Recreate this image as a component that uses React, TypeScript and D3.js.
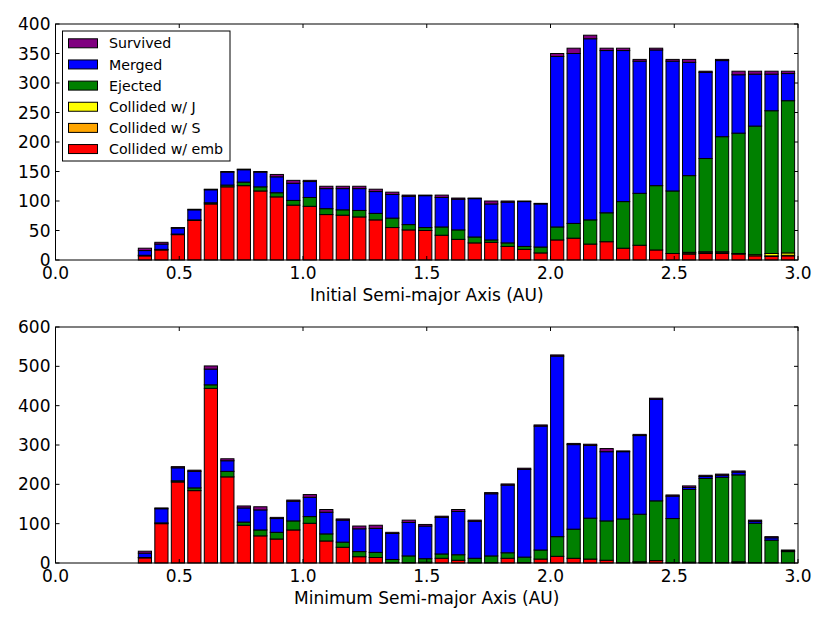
import { useEffect, useRef } from "react";
import * as d3 from "d3";

// categories, bottom of stack first
const categories = ["Collided w/ emb", "Collided w/ S", "Collided w/ J", "Ejected", "Merged", "Survived"];
const colors = ["#ff0000", "#ffa500", "#ffff00", "#008000", "#0000ff", "#800080"];
const legendOrder = ["Survived", "Merged", "Ejected", "Collided w/ J", "Collided w/ S", "Collided w/ emb"];

// 40 bins over the range of the data
const binLo = 0.328;
const binHi = 2.993;
const nBins = 40;

// Initial semi-major axis counts per bin
const initEmb = [7, 17, 43, 67, 95, 124, 126, 117, 107, 93, 91, 77, 76, 73, 68, 55, 51, 50, 42, 35, 29, 30, 23, 18, 12, 34, 37, 27, 31, 20, 25, 17, 11, 10, 11, 11, 10, 7, 6, 7];
const initS = [0, 0, 0, 0, 0, 0, 0, 0, 0, 0, 0, 0, 0, 0, 0, 0, 0, 0, 0, 0, 0, 0, 0, 0, 0, 0, 0, 0, 0, 0, 0, 0, 0, 2, 2, 2, 0, 0, 1, 1];
const initJ = [0, 0, 0, 0, 0, 0, 0, 0, 0, 0, 0, 0, 0, 0, 0, 0, 0, 0, 0, 0, 0, 0, 0, 0, 0, 0, 0, 0, 0, 0, 0, 0, 0, 1, 1, 1, 1, 2, 4, 4];
const initEj = [1, 1, 1, 1, 2, 3, 6, 7, 7, 8, 15, 10, 9, 11, 11, 16, 9, 5, 14, 16, 10, 4, 6, 5, 10, 22, 25, 41, 49, 79, 88, 109, 106, 130, 158, 195, 204, 218, 242, 258];
const initMerged = [8, 9, 10, 17, 22, 22, 21, 25, 27, 29, 27, 34, 36, 37, 37, 40, 48, 54, 50, 52, 65, 61, 69, 76, 73, 289, 288, 307, 275, 256, 224, 230, 220, 192, 146, 129, 99, 88, 62, 46];
const initSurv = [4, 3, 1, 1, 1, 1, 1, 1, 4, 5, 2, 4, 4, 4, 4, 4, 2, 1, 4, 2, 1, 5, 2, 1, 1, 5, 9, 6, 4, 4, 3, 3, 3, 5, 2, 2, 6, 5, 5, 4];

// Minimum semi-major axis counts per bin
const minEmb = [13, 100, 206, 184, 444, 219, 96, 69, 61, 84, 101, 56, 40, 16, 14, 1, 1, 2, 12, 7, 1, 1, 12, 1, 10, 17, 12, 10, 7, 1, 2, 6, 1, 2, 1, 1, 1, 1, 1, 0];
const minS = [0, 0, 0, 0, 0, 0, 0, 0, 0, 0, 0, 0, 0, 0, 0, 0, 0, 0, 0, 0, 0, 0, 0, 0, 0, 0, 0, 0, 0, 0, 1, 0, 0, 0, 0, 0, 0, 0, 0, 0];
const minJ = [0, 0, 0, 0, 0, 0, 0, 0, 0, 0, 0, 0, 0, 0, 0, 0, 0, 0, 0, 0, 0, 0, 0, 0, 0, 0, 0, 0, 0, 0, 0, 0, 0, 0, 0, 0, 2, 0, 0, 0];
const minEj = [1, 2, 3, 7, 9, 14, 8, 15, 17, 23, 17, 18, 13, 13, 13, 8, 17, 9, 11, 14, 11, 17, 14, 14, 23, 50, 74, 104, 100, 111, 121, 152, 112, 185, 214, 217, 221, 100, 57, 29];
const minMerged = [11, 36, 33, 42, 40, 27, 36, 51, 35, 50, 49, 55, 56, 58, 61, 66, 85, 83, 93, 110, 94, 158, 172, 223, 315, 459, 215, 185, 176, 171, 200, 258, 57, 5, 5, 5, 7, 5, 6, 2];
const minSurv = [5, 2, 3, 3, 8, 5, 5, 8, 3, 3, 7, 7, 3, 7, 8, 3, 6, 4, 3, 5, 3, 3, 3, 3, 3, 3, 3, 3, 8, 2, 3, 3, 3, 4, 3, 3, 3, 3, 3, 2];

const xTicks = [0, 0.5, 1, 1.5, 2, 2.5, 3];
const topYTicks = [0, 50, 100, 150, 200, 250, 300, 350, 400];
const botYTicks = [0, 100, 200, 300, 400, 500, 600];

const FONT = "DejaVu Sans, sans-serif";

type Panel = {
    series: number[][];
    yMax: number;
    yTicks: number[];
    top: number;
    bottom: number;
    label: string;
    legend: boolean;
};

export default function App() {
    const svgRef = useRef<SVGSVGElement | null>(null);

    useEffect(() => {
        const width = 830;
        const height = 623;
        const left = 55.5;
        const right = 798;

        const svg = d3.select(svgRef.current!).attr("width", width).attr("height", height);
        svg.selectAll("*").remove();
        svg.append("rect").attr("width", width).attr("height", height).attr("fill", "#fff");

        const x = d3.scaleLinear().domain([0, 3]).range([left, right]);
        const binW = (binHi - binLo) / nBins;

        const panels: Panel[] = [
            {
                series: [initEmb, initS, initJ, initEj, initMerged, initSurv],
                yMax: 400,
                yTicks: topYTicks,
                top: 24,
                bottom: 260,
                label: "Initial Semi-major Axis (AU)",
                legend: true,
            },
            {
                series: [minEmb, minS, minJ, minEj, minMerged, minSurv],
                yMax: 600,
                yTicks: botYTicks,
                top: 327,
                bottom: 563,
                label: "Minimum Semi-major Axis (AU)",
                legend: false,
            },
        ];

        panels.forEach((p) => {
            const y = d3.scaleLinear().domain([0, p.yMax]).range([p.bottom, p.top]);
            const g = svg.append("g");

            const rows = d3.range(nBins).map((i) => {
                const r: Record<string, number> = { i };
                categories.forEach((c, k) => (r[c] = p.series[k][i]));
                return r;
            });
            const stacked = d3.stack<Record<string, number>>().keys(categories)(rows);

            stacked.forEach((layer, k) => {
                g.selectAll(null)
                    .data(layer)
                    .join("rect")
                    .filter((d) => d[1] - d[0] > 0)
                    .attr("x", (d) => x(binLo + binW * (d.data.i + 0.1)))
                    .attr("width", x(binW * 0.8) - x(0))
                    .attr("y", (d) => y(d[1]))
                    .attr("height", (d) => y(d[0]) - y(d[1]))
                    .attr("fill", colors[k])
                    .attr("stroke", "#000")
                    .attr("stroke-width", 1);
            });

            // frame
            g.append("rect")
                .attr("x", left)
                .attr("y", p.top)
                .attr("width", right - left)
                .attr("height", p.bottom - p.top)
                .attr("fill", "none")
                .attr("stroke", "#000")
                .attr("stroke-width", 1);

            // inward ticks on all sides
            xTicks.forEach((t) => {
                g.append("line").attr("x1", x(t)).attr("x2", x(t)).attr("y1", p.bottom).attr("y2", p.bottom - 4).attr("stroke", "#000");
                g.append("line").attr("x1", x(t)).attr("x2", x(t)).attr("y1", p.top).attr("y2", p.top + 4).attr("stroke", "#000");
                g.append("text")
                    .attr("x", x(t))
                    .attr("y", p.bottom + 19)
                    .attr("text-anchor", "middle")
                    .attr("font-family", FONT)
                    .attr("font-size", 17)
                    .text(d3.format(".1f")(t));
            });
            p.yTicks.forEach((t) => {
                g.append("line").attr("x1", left).attr("x2", left + 4).attr("y1", y(t)).attr("y2", y(t)).attr("stroke", "#000");
                g.append("line").attr("x1", right).attr("x2", right - 4).attr("y1", y(t)).attr("y2", y(t)).attr("stroke", "#000");
                g.append("text")
                    .attr("x", left - 5)
                    .attr("y", y(t))
                    .attr("dy", "0.36em")
                    .attr("text-anchor", "end")
                    .attr("font-family", FONT)
                    .attr("font-size", 17)
                    .text(t);
            });

            g.append("text")
                .attr("x", (left + right) / 2)
                .attr("y", p.bottom + 41)
                .attr("text-anchor", "middle")
                .attr("font-family", FONT)
                .attr("font-size", 17)
                .text(p.label);

            if (p.legend) {
                const lg = g.append("g");
                lg.append("rect")
                    .attr("x", 62.5)
                    .attr("y", 31)
                    .attr("width", 167.5)
                    .attr("height", 130)
                    .attr("fill", "#fff")
                    .attr("stroke", "#000")
                    .attr("stroke-width", 1);
                legendOrder.forEach((name, j) => {
                    const cy = 43.3 + j * 21.15;
                    const k = categories.indexOf(name);
                    lg.append("rect")
                        .attr("x", 68.5)
                        .attr("y", cy - 4.5)
                        .attr("width", 29)
                        .attr("height", 9)
                        .attr("fill", colors[k])
                        .attr("stroke", "#000")
                        .attr("stroke-width", 1);
                    lg.append("text")
                        .attr("x", 109)
                        .attr("y", cy)
                        .attr("dy", "0.36em")
                        .attr("font-family", FONT)
                        .attr("font-size", 14.2)
                        .text(name);
                });
            }
        });
    }, []);

    return (
        <div style={{ position: "absolute", left: 0, top: 0 }}>
            <svg ref={svgRef} style={{ display: "block" }} />
        </div>
    );
}
